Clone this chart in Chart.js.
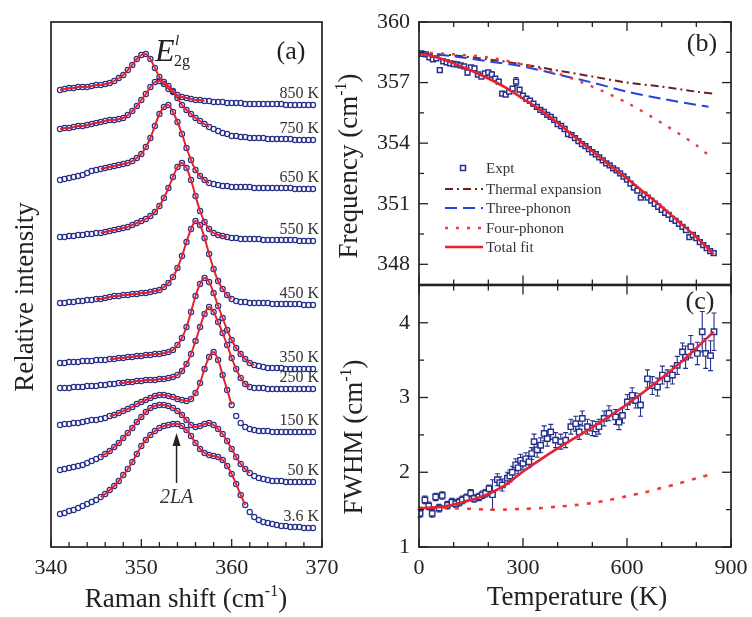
<!DOCTYPE html>
<html>
<head>
<meta charset="utf-8">
<script src="https://cdn.jsdelivr.net/npm/chart.js@4.4.0/dist/chart.umd.min.js"></script>
<style>
html, body { margin: 0; padding: 0; background: #fff; }
#wrap { position: relative; width: 752px; height: 617px; overflow: hidden; background: #fff; }
canvas { position: absolute; }
#ca { left: 0; top: 0; }
#cb { left: 330px; top: 0; }
#cc { left: 330px; top: 280px; }
</style>
</head>
<body>
<div id="wrap">
  <canvas id="ca" width="340" height="617"></canvas>
  <canvas id="cb" width="422" height="290"></canvas>
  <canvas id="cc" width="422" height="337"></canvas>
</div>
<script>
// ---------- (a) Raman spectra, stacked ----------
const ramanShift = [341, 341.5, 342, 342.5, 343, 343.5, 344, 344.5, 345, 345.5, 346, 346.5, 347, 347.5, 348, 348.5,
  349, 349.5, 350, 350.5, 351, 351.5, 352, 352.5, 353, 353.5, 354, 354.5, 355, 355.5, 356, 356.5, 357, 357.5,
  358, 358.5, 359, 359.5, 360, 360.5, 361, 361.5, 362, 362.5, 363, 363.5, 364, 364.5, 365, 365.5, 366, 366.5,
  367, 367.5, 368, 368.5, 369];
const ramanTicks = [340, 350, 360, 370];
const tempLabels = ['850 K', '750 K', '650 K', '550 K', '450 K', '350 K', '250 K', '150 K', '50 K', '3.6 K'];

const spec850 = [457,458,459,459,460,460,460,461,462,462,463,464,466,469,472,477,482,488,492,493,488,479,470,463,458,455,452,450,449,448,447,447,446,446,445,445,445,444,444,444,444,443,443,443,443,443,443,443,443,443,442,442,442,442,442,442,442];
const spec750 = [418,419,419,420,421,421,422,423,424,425,426,427,427,428,429,432,436,441,447,453,460,465,466,465,461,456,449,442,437,433,429,426,423,420,418,416,414,413,411,411,410,410,409,409,409,409,408,408,408,408,408,408,407,407,407,407,407];
const spec650 = [367,368,369,370,371,372,374,376,377,378,379,380,381,382,383,384,386,389,393,400,409,421,433,440,442,435,425,413,399,387,377,371,367,364,363,362,361,361,360,360,360,360,360,359,359,359,359,359,359,359,359,359,358,358,358,358,358];
const spec550 = [310,310,311,311,312,312,313,313,314,314,315,316,317,318,319,320,322,324,326,328,331,335,341,349,359,370,380,384,379,367,351,336,325,318,314,312,311,310,309,309,308,308,308,308,308,307,307,307,307,307,307,307,307,306,306,306,306];
const spec450 = [244,244,245,245,246,246,247,247,248,248,249,250,251,251,252,252,253,253,254,254,255,256,257,260,264,270,279,291,305,318,326,322,309,293,278,266,258,252,248,246,245,245,244,244,244,244,244,243,243,243,243,243,243,243,242,242,242];
const spec350 = [184,184,185,185,185,186,186,186,187,187,187,188,188,189,189,190,190,191,191,192,192,193,193,194,195,197,202,209,220,235,251,263,269,265,254,241,229,217,207,199,193,188,184,182,181,180,179,179,179,179,178,178,178,178,178,178,178];
const spec250 = [159,159,159,160,160,160,161,161,161,162,162,163,163,164,164,165,165,166,166,167,167,167,168,168,169,170,172,176,183,193,206,220,233,240,235,225,214,202,189,178,169,163,160,159,159,159,158,158,158,158,158,158,158,158,158,158,158];
const spec150 = [122,123,123,124,124,125,126,127,127,128,129,131,132,134,136,138,140,143,145,147,149,151,152,152,151,150,148,147,146,148,154,164,178,190,195,187,172,157,142,131,124,120,118,117,116,116,116,115,115,115,115,115,115,115,115,115,115];
const spec50 = [77,78,79,80,81,82,84,86,88,90,93,96,100,104,109,114,119,125,130,135,139,141,142,142,141,139,136,132,127,122,120,121,123,124,122,118,113,106,98,90,83,78,74,71,69,68,67,66,66,66,65,65,65,65,65,65,65];
const spec3_6 = [33,34,36,37,39,41,43,45,47,50,53,57,61,66,72,78,85,93,101,107,112,116,119,121,122,123,123,121,117,111,104,98,94,92,91,90,87,81,73,63,52,42,35,30,27,25,24,23,22,21,21,20,20,20,19,19,19];
const spectra = [spec850, spec750, spec650, spec550, spec450, spec350, spec250, spec150, spec50, spec3_6];
// range of each fitted curve (cm-1)
const fitFrom = [341, 341, 345.5, 345.5, 345, 346.5, 347.5, 346.5, 345.5, 345.5];
const fitTo = [357, 357.5, 357.5, 359.5, 360, 362.5, 362, 360, 362, 361.5];

// ---------- (b) peak frequency vs temperature ----------
const tempTicks = [0, 300, 600, 900];
const freqTicks = [348, 351, 354, 357, 360];
const freqT = [5,10,20,30,40,50,60,70,80,90,100,110,120,130,140,150,160,170,180,190,200,210,220,230,240,250,260,270,280,290,300,310,320,330,340,350,360,370,380,390,400,410,420,430,440,450,460,470,480,490,500,510,520,530,540,550,560,570,580,590,600,610,620,630,640,650,660,670,680,690,700,710,720,730,740,750,760,770,780,790,800,810,820,830,840,850];
const freqExpt = [358.45,358.42,358.40,358.25,358.15,358.20,357.62,358.05,358.00,357.95,357.92,357.90,357.85,357.80,357.50,357.75,357.70,357.40,357.30,357.45,357.50,357.40,357.20,357.05,356.45,356.40,356.55,356.70,357.05,356.65,356.35,356.20,356.10,355.95,355.80,355.65,355.55,355.40,355.30,355.15,354.95,354.85,354.70,354.45,354.40,354.25,354.10,353.95,353.85,353.70,353.55,353.45,353.30,353.15,353.00,352.90,352.75,352.65,352.50,352.35,352.20,352.00,351.80,351.65,351.30,351.45,351.30,351.15,351.00,350.85,350.70,350.55,350.45,350.25,350.15,350.00,349.85,349.70,349.35,349.45,349.30,349.10,348.95,348.80,348.65,348.55];
const freqErr = [0.05,0.05,0.05,0.05,0.05,0.05,0.06,0.05,0.05,0.05,0.05,0.05,0.05,0.05,0.12,0.05,0.05,0.06,0.06,0.06,0.10,0.12,0.06,0.06,0.06,0.06,0.06,0.06,0.20,0.10,0.06,0.06,0.06,0.06,0.06,0.06,0.06,0.06,0.06,0.06,0.06,0.06,0.06,0.06,0.06,0.06,0.06,0.06,0.06,0.06,0.06,0.06,0.06,0.06,0.06,0.06,0.06,0.06,0.06,0.06,0.06,0.06,0.06,0.06,0.08,0.06,0.06,0.06,0.06,0.06,0.06,0.06,0.06,0.06,0.06,0.06,0.06,0.06,0.08,0.06,0.06,0.06,0.06,0.06,0.06,0.06];
const fitT = [0,50,100,150,200,250,300,350,400,450,500,550,600,650,700,750,800,850];
const freqFit = [358.45,358.25,357.95,357.6,357.2,356.75,356.2,355.65,355.0,354.3,353.6,352.9,352.25,351.55,350.85,350.1,349.35,348.5];
const thermalT = [0,100,200,300,400,500,600,700,800,850];
const thermalExp = [358.45,358.35,358.15,357.9,357.6,357.3,357.0,356.8,356.55,356.45];
const phononT = [0,100,200,300,400,500,600,700,800,835];
const threePhonon = [358.45,358.3,358.05,357.8,357.4,357.0,356.55,356.2,355.9,355.8];
const fourPhonon = [358.5,358.4,358.25,357.9,357.45,356.8,356.0,355.0,353.9,353.4];

// ---------- (c) linewidth vs temperature ----------
const fwhmTicks = [1, 2, 3, 4];
const fwhmT = [3,17,28,38,48,58,67,82,95,106,116,125,137,149,159,173,183,192,202,212,226,233,240,255,262,269,279,286,293,300,308,317,325,332,341,351,361,370,380,394,409,423,438,452,462,471,486,500,510,519,534,548,567,577,587,601,615,625,639,659,673,688,702,716,731,745,760,769,784,803,817,827,841,851];
const fwhmExpt = [1.45,1.63,1.55,1.45,1.67,1.52,1.69,1.56,1.60,1.58,1.60,1.63,1.66,1.72,1.65,1.67,1.70,1.72,1.78,1.70,1.90,1.86,1.83,1.92,1.95,2.00,2.10,2.06,2.16,2.12,2.18,2.14,2.25,2.41,2.30,2.36,2.52,2.45,2.54,2.43,2.41,2.43,2.61,2.65,2.54,2.72,2.61,2.59,2.58,2.61,2.72,2.79,2.74,2.67,2.76,2.94,3.03,2.96,2.90,3.25,3.16,3.14,3.30,3.25,3.30,3.43,3.61,3.54,3.68,3.59,3.88,3.59,3.56,3.88];
const fwhmErr = [0.05,0.05,0.05,0.05,0.05,0.05,0.05,0.05,0.05,0.05,0.05,0.05,0.05,0.05,0.05,0.05,0.05,0.05,0.05,0.20,0.08,0.08,0.08,0.08,0.08,0.08,0.08,0.08,0.08,0.08,0.08,0.08,0.08,0.10,0.10,0.10,0.10,0.10,0.10,0.10,0.10,0.10,0.10,0.10,0.10,0.10,0.10,0.10,0.10,0.10,0.10,0.10,0.10,0.10,0.10,0.10,0.10,0.10,0.15,0.12,0.12,0.12,0.12,0.12,0.12,0.12,0.12,0.15,0.15,0.15,0.27,0.20,0.20,0.25];
const fwhmFit = [1.52,1.53,1.57,1.63,1.71,1.83,2.01,2.17,2.32,2.46,2.60,2.75,2.91,3.08,3.26,3.45,3.66,3.88];
const fwhmFour = [1.52,1.53,1.52,1.51,1.50,1.50,1.51,1.52,1.54,1.56,1.59,1.63,1.68,1.73,1.79,1.85,1.92,1.98];

// ---------- styles ----------
const SERIF = "'Liberation Serif','Times New Roman',serif";
Chart.defaults.font.family = SERIF;
Chart.defaults.color = '#222';
const INK = '#222';
const NAVY = '#25308c';
const RED = '#e4232d';
const DOT_RED = '#ee3a3a';
const BLUE = '#2244dd';
const MAROON = '#6e1f1a';

const xy = (xs, ys) => xs.map((x, i) => ({ x, y: ys[i] }));

// text with optional superscript parts, optionally rotated
function richText(ctx, parts, x, y, size, o = {}) {
  ctx.save();
  ctx.translate(x, y);
  if (o.angle) ctx.rotate(o.angle);
  const st = o.italic ? 'italic ' : '';
  const fontFor = k => st + (k ? Math.round(size * 0.6) : size) + 'px ' + SERIF;
  let w = 0;
  parts.forEach(([t, k]) => { ctx.font = fontFor(k); w += ctx.measureText(t).width; });
  let cx = o.align === 'right' ? -w : o.align === 'left' ? 0 : -w / 2;
  ctx.fillStyle = o.color || INK;
  ctx.textBaseline = 'alphabetic';
  parts.forEach(([t, k]) => {
    ctx.font = fontFor(k);
    const dy = k === 'sup' ? -size * 0.42 : k === 'sub' ? size * 0.2 : 0;
    ctx.fillText(t, cx, dy);
    cx += ctx.measureText(t).width;
  });
  ctx.restore();
}

// box round the plot area plus inward major/minor ticks
function frameTicks(chart, f) {
  const { ctx, chartArea: a } = chart;
  const xs = chart.scales.x, ys = chart.scales.y;
  const line = (x1, y1, x2, y2) => { ctx.beginPath(); ctx.moveTo(x1, y1); ctx.lineTo(x2, y2); ctx.stroke(); };
  const marks = (scale, step) => {
    const major = scale.ticks.map(t => t.value);
    let v = major[0];
    while (v - step >= scale.min - 1e-9) v -= step;
    const minor = [];
    for (; v <= scale.max + 1e-9; v += step) {
      const r = Math.round(v * 1000) / 1000;
      if (!major.some(m => Math.abs(m - r) < 1e-6)) minor.push(r);
    }
    return [[major, f.major], [minor, f.minor]];
  };
  ctx.save();
  ctx.strokeStyle = INK;
  ctx.lineWidth = 1.3;
  marks(xs, f.xMinor).forEach(([vals, len]) => vals.forEach(v => {
    const p = xs.getPixelForValue(v);
    if (f.x.includes('bottom')) line(p, a.bottom, p, a.bottom - len);
    if (f.x.includes('top')) line(p, a.top, p, a.top + len);
  }));
  if (f.y.length) marks(ys, f.yMinor).forEach(([vals, len]) => vals.forEach(v => {
    const p = ys.getPixelForValue(v);
    if (f.y.includes('left')) line(a.left, p, a.left + len, p);
    if (f.y.includes('right')) line(a.right, p, a.right - len, p);
  }));
  ctx.lineWidth = 1.7;
  ctx.strokeRect(a.left, a.top, a.right - a.left, a.bottom - a.top);
  ctx.restore();
}

// vertical error bars for datasets carrying yErr
const errorBars = {
  id: 'errorBars',
  beforeDatasetsDraw(chart) {
    const { ctx } = chart;
    const xs = chart.scales.x, ys = chart.scales.y;
    chart.data.datasets.forEach(ds => {
      if (!ds.yErr) return;
      ctx.save();
      ctx.strokeStyle = ds.borderColor;
      ctx.lineWidth = 1.1;
      ds.data.forEach((p, j) => {
        const e = ds.yErr[j];
        const x = xs.getPixelForValue(p.x);
        const y1 = ys.getPixelForValue(p.y - e), y2 = ys.getPixelForValue(p.y + e);
        ctx.beginPath();
        ctx.moveTo(x, y1); ctx.lineTo(x, y2);
        ctx.moveTo(x - 2.5, y1); ctx.lineTo(x + 2.5, y1);
        ctx.moveTo(x - 2.5, y2); ctx.lineTo(x + 2.5, y2);
        ctx.stroke();
      });
      ctx.restore();
    });
  }
};

// fixed axis boxes; label overhang is not allowed to shrink the plot area
function scaleX(min, max, ticks, showLabels, height) {
  return {
    type: 'linear', min, max,
    afterBuildTicks: s => { s.ticks = ticks.map(v => ({ value: v })); },
    ticks: { display: showLabels, font: { size: 22 }, color: INK, padding: 8, maxRotation: 0 },
    grid: { display: false, drawTicks: false },
    border: { display: false },
    afterFit: s => { s.height = height; s.paddingLeft = 0; s.paddingRight = 0; }
  };
}
function scaleY(min, max, ticks, showLabels, width) {
  return {
    type: 'linear', min, max,
    afterBuildTicks: s => { if (ticks) s.ticks = ticks.map(v => ({ value: v })); },
    ticks: { display: showLabels, font: { size: 22 }, color: INK, padding: 9 },
    grid: { display: false, drawTicks: false },
    border: { display: false },
    afterFit: s => { s.width = width; s.paddingTop = 0; s.paddingBottom = 0; }
  };
}
const common = {
  responsive: false, animation: false, events: [],
  plugins: { legend: { display: false }, tooltip: { enabled: false } }
};

// ---------- chart (a) ----------
const specSets = [];
spectra.forEach((s, i) => {
  const pts = xy(ramanShift, s);
  specSets.push({
    label: tempLabels[i] + ' fit', showLine: true, order: 1,
    data: pts.filter(p => p.x >= fitFrom[i] && p.x <= fitTo[i]),
    borderColor: RED, borderWidth: 2, pointRadius: 0, tension: 0.3, fill: false
  });
  specSets.push({
    label: tempLabels[i], showLine: false, order: 2, data: pts,
    pointStyle: 'circle', pointRadius: 2.6, pointBorderWidth: 1.2,
    pointBorderColor: NAVY, pointBackgroundColor: 'rgba(255,255,255,0)'
  });
});

new Chart(document.getElementById('ca'), {
  type: 'scatter',
  data: { datasets: specSets },
  options: {
    ...common,
    layout: { padding: { top: 22, right: 18, left: 0, bottom: 0 } },
    scales: { x: scaleX(340, 370, ramanTicks, true, 70), y: scaleY(0, 525, null, false, 51) }
  },
  plugins: [{
    id: 'panelA',
    afterDraw(chart) {
      const { ctx, chartArea: a, scales: { x, y } } = chart;
      frameTicks(chart, { x: ['bottom'], y: [], xMinor: 2, major: 8, minor: 5 });
      tempLabels.forEach((t, i) => {
        const s = spectra[i];
        richText(ctx, [[t]], a.right - 3, y.getPixelForValue(s[s.length - 1]) - 7, 16, { align: 'right', color: '#333' });
      });
      // mode label E'2g
      richText(ctx, [['E']], 155, 61, 32, { align: 'left', italic: true });
      richText(ctx, [['l']], 175, 45, 15, { align: 'left', italic: true });
      richText(ctx, [['2g']], 174, 66, 16, { align: 'left' });
      richText(ctx, [['(a)']], 291, 59, 26);
      // 2LA arrow
      const ax = x.getPixelForValue(353.9);
      const tip = y.getPixelForValue(114), tail = y.getPixelForValue(64);
      ctx.save();
      ctx.strokeStyle = INK; ctx.fillStyle = INK; ctx.lineWidth = 1.5;
      ctx.beginPath(); ctx.moveTo(ax, tail); ctx.lineTo(ax, tip + 10); ctx.stroke();
      ctx.beginPath(); ctx.moveTo(ax, tip); ctx.lineTo(ax - 4, tip + 13); ctx.lineTo(ax + 4, tip + 13); ctx.closePath(); ctx.fill();
      ctx.restore();
      richText(ctx, [['2LA']], ax, y.getPixelForValue(44), 20, { italic: true, color: '#333' });
      richText(ctx, [['Relative intensity']], 33, 297, 27, { angle: -Math.PI / 2 });
      richText(ctx, [['Raman shift (cm'], ['-1', 'sup'], [')']], 186, 607, 27);
    }
  }]
});

// ---------- chart (b) ----------
const freqSets = [
  { label: 'Total fit', showLine: true, order: 0, data: xy(fitT, freqFit), borderColor: RED, borderWidth: 2.6, pointRadius: 0, tension: 0.3 },
  { label: 'Four-phonon', showLine: true, order: 1, data: xy(phononT, fourPhonon), borderColor: DOT_RED, borderWidth: 2.4, borderDash: [3, 8], pointRadius: 0, tension: 0.3 },
  { label: 'Three-phonon', showLine: true, order: 1, data: xy(phononT, threePhonon), borderColor: BLUE, borderWidth: 2, borderDash: [12, 6], pointRadius: 0, tension: 0.3 },
  { label: 'Thermal expansion', showLine: true, order: 1, data: xy(thermalT, thermalExp), borderColor: MAROON, borderWidth: 2, borderDash: [8, 4, 2, 4], pointRadius: 0, tension: 0.3 },
  { label: 'Expt', showLine: false, order: 3, data: xy(freqT, freqExpt), yErr: freqErr, borderColor: NAVY,
    pointStyle: 'rect', pointRadius: 3.4, pointBorderWidth: 1.5, pointBorderColor: NAVY, pointBackgroundColor: '#fff' }
];

new Chart(document.getElementById('cb'), {
  type: 'scatter',
  data: { datasets: freqSets },
  options: {
    ...common,
    layout: { padding: { top: 22, right: 21, left: 0, bottom: 0 } },
    scales: { x: scaleX(0, 900, tempTicks, false, 5), y: scaleY(347, 360, freqTicks, true, 89) }
  },
  plugins: [errorBars, {
    id: 'panelB',
    afterDraw(chart) {
      const { ctx } = chart;
      frameTicks(chart, { x: ['bottom', 'top'], y: ['left', 'right'], xMinor: 100, yMinor: 1.5, major: 9, minor: 5 });
      // legend
      const rows = [['Expt', 4], ['Thermal expansion', 3], ['Three-phonon', 2], ['Four-phonon', 1], ['Total fit', 0]];
      const rowY = [168, 189, 208, 228, 247];
      rows.forEach(([name, di], r) => {
        const ds = freqSets[di];
        const yy = rowY[r];
        ctx.save();
        if (ds.showLine) {
          ctx.strokeStyle = ds.borderColor;
          ctx.lineWidth = ds.borderWidth;
          ctx.setLineDash(ds.borderDash || []);
          ctx.beginPath(); ctx.moveTo(115, yy); ctx.lineTo(153, yy); ctx.stroke();
        } else {
          ctx.strokeStyle = NAVY; ctx.lineWidth = 1.5; ctx.fillStyle = '#fff';
          ctx.fillRect(130.5, yy - 2.5, 5, 5); ctx.strokeRect(130.5, yy - 2.5, 5, 5);
        }
        ctx.restore();
        richText(ctx, [[name]], 156, yy + 5, 15, { align: 'left', color: '#333' });
      });
      richText(ctx, [['(b)']], 372, 51, 26);
      richText(ctx, [['Frequency (cm'], ['-1', 'sup'], [')']], 27, 166, 27, { angle: -Math.PI / 2 });
    }
  }]
});

// ---------- chart (c) ----------
const fwhmSets = [
  { label: 'Total fit', showLine: true, order: 0, data: xy(fitT, fwhmFit), borderColor: RED, borderWidth: 2.6, pointRadius: 0, tension: 0.3 },
  { label: 'Four-phonon', showLine: true, order: 1, data: xy(fitT, fwhmFour), borderColor: DOT_RED, borderWidth: 2.6, borderDash: [4, 8], pointRadius: 0, tension: 0.3 },
  { label: 'Expt', showLine: false, order: 3, data: xy(fwhmT, fwhmExpt), yErr: fwhmErr, borderColor: NAVY,
    pointStyle: 'rect', pointRadius: 3.8, pointBorderWidth: 1.4, pointBorderColor: NAVY, pointBackgroundColor: '#fff' }
];

new Chart(document.getElementById('cc'), {
  type: 'scatter',
  data: { datasets: fwhmSets },
  options: {
    ...common,
    layout: { padding: { top: 5, right: 21, left: 0, bottom: 0 } },
    scales: { x: scaleX(0, 900, tempTicks, true, 70), y: scaleY(1, 4.5, fwhmTicks, true, 89) }
  },
  plugins: [errorBars, {
    id: 'panelC',
    afterDraw(chart) {
      const { ctx } = chart;
      frameTicks(chart, { x: ['bottom', 'top'], y: ['left', 'right'], xMinor: 100, yMinor: 0.5, major: 9, minor: 5 });
      richText(ctx, [['(c)']], 370, 29, 26);
      richText(ctx, [['FWHM (cm'], ['-1', 'sup'], [')']], 32, 157, 27, { angle: -Math.PI / 2 });
      richText(ctx, [['Temperature (K)']], 247, 325, 27);
    }
  }]
});
</script>
</body>
</html>
